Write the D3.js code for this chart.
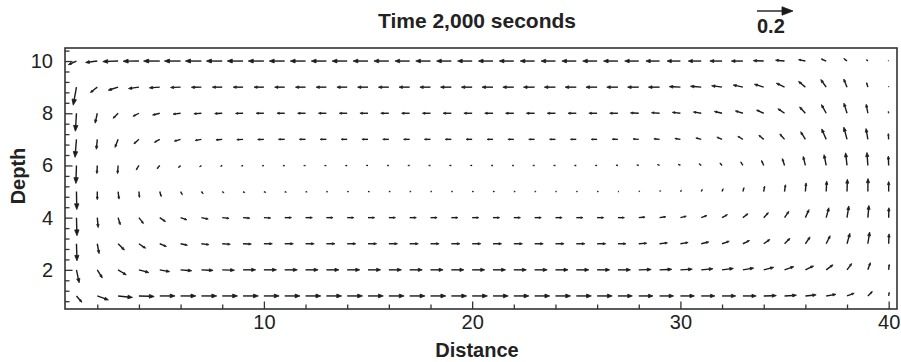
<!DOCTYPE html>
<html>
<head>
<meta charset="utf-8">
<script src="https://cdn.jsdelivr.net/npm/d3@7"></script>
<style>
  body { margin: 0; background: #fff; }
  text { font-family: "Liberation Sans", Arial, Helvetica, sans-serif; fill: #222; }
</style>
</head>
<body>
<svg class="plot" width="901" height="362"></svg>
<script>
// grid positions (distance along x, depth along y)
var distance = [1,2,3,4,5,6,7,8,9,10,11,12,13,14,15,16,17,18,19,20,
                21,22,23,24,25,26,27,28,29,30,31,32,33,34,35,36,37,38,39,40];
var depth = [10,9,8,7,6,5,4,3,2,1];

// velocity components in thousandths, one row per depth (10 at top .. 1 at bottom)
var uRows = [
  [-45,-65,-85,-88,-90,-90,-89,-88,-88,-87,-86,-85,-84,-84,-83,-83,-82,-82,-82,-81,-81,-81,-80,-80,-80,-80,-80,-78,-76,-74,-72,-68,-64,-58,-50,-38,-28,-18,-8,-3],
  [-18,-38,-55,-58,-58,-56,-56,-55,-55,-55,-56,-56,-57,-57,-58,-58,-59,-59,-60,-60,-61,-61,-62,-62,-62,-62,-62,-62,-62,-62,-60,-58,-54,-52,-46,-38,-30,-18,-7,-1],
  [-6,-12,-28,-33,-40,-42,-42,-42,-42,-43,-43,-44,-44,-44,-45,-45,-45,-45,-46,-46,-46,-46,-46,-46,-46,-46,-46,-46,-45,-45,-44,-43,-42,-40,-37,-32,-26,-17,-9,-2],
  [-8,-5,-17,-28,-30,-35,-35,-35,-35,-35,-35,-35,-35,-34,-34,-34,-34,-34,-34,-34,-33,-33,-33,-33,-33,-33,-32,-32,-32,-31,-30,-29,-28,-27,-26,-26,-25,-18,-10,-2],
  [-3,-2,-3,-15,-15,-12,-10,-9,-9,-9,-10,-10,-10,-10,-10,-10,-10,-10,-10,-10,-10,-10,-10,-10,-10,-10,-11,-11,-12,-12,-12,-12,-12,-12,-12,-12,-12,-8,-5,-2],
  [2,0,5,3,8,10,10,10,10,10,9,9,8,8,8,8,8,8,8,8,8,8,8,7,7,7,6,6,6,6,6,6,6,5,5,4,3,2,1,0],
  [3,5,12,25,32,35,38,38,38,38,38,38,37,37,37,37,37,37,37,37,37,37,37,37,37,37,36,35,35,33,32,30,28,26,24,20,15,10,6,1],
  [3,10,35,37,37,38,42,45,46,47,48,48,48,48,48,48,48,48,48,48,48,48,48,48,48,48,45,45,44,43,42,40,37,34,30,26,22,16,10,2],
  [15,28,45,55,55,62,65,68,70,70,70,70,70,70,70,70,70,70,70,70,70,70,70,70,70,70,70,69,68,66,65,63,60,56,52,46,38,26,14,3],
  [30,62,80,85,85,85,85,85,85,85,85,85,85,85,85,85,85,85,85,85,85,84,84,84,84,84,80,79,78,78,76,76,74,70,66,60,54,40,25,3]
];
var vRows = [
  [-20,-8,-3,-1,0,0,0,0,0,0,0,0,0,0,0,0,0,0,0,0,0,0,0,0,0,0,0,0,0,0,0,0,0,2,5,8,12,14,8,3],
  [-100,-30,-17,-8,-4,-2,-1,0,0,0,0,0,0,0,0,0,0,0,0,0,0,0,0,0,0,0,0,0,0,3,5,8,12,16,22,32,42,45,25,5],
  [-100,-55,-28,-17,-10,-5,-3,-2,-1,0,0,0,0,0,0,0,0,0,0,0,0,0,0,0,0,0,0,2,3,5,7,10,13,18,25,35,48,56,50,10],
  [-100,-55,-45,-25,-17,-10,-6,-3,-2,-1,0,0,0,0,0,0,0,0,0,0,0,0,0,0,0,0,1,2,3,5,8,12,17,23,30,42,58,68,60,32],
  [-100,-45,-45,-25,-18,-12,-8,-5,-4,-3,-2,-1,-1,-1,0,0,0,0,0,0,0,0,0,0,0,0,2,3,5,7,10,14,20,28,38,50,60,70,72,52],
  [-100,-45,-42,-33,-28,-18,-12,-8,-6,-5,-4,-3,-2,-1,-1,0,0,0,0,0,0,0,0,0,0,0,0,3,5,8,12,16,22,30,38,48,58,68,72,56],
  [-100,-55,-40,-33,-22,-12,-8,-4,-3,-2,0,0,0,0,0,0,0,0,0,0,0,0,0,0,0,0,0,3,5,8,12,17,22,28,35,45,55,65,68,55],
  [-95,-55,-35,-25,-15,-8,-5,-3,-2,0,0,0,0,0,0,0,0,0,0,0,0,0,0,0,0,0,0,3,5,7,10,14,18,24,30,38,45,58,65,55],
  [-72,-45,-28,-15,-10,-5,-3,-2,0,0,0,0,0,0,0,0,0,0,0,0,0,0,0,0,0,0,0,2,3,4,6,8,10,14,18,22,28,35,40,30],
  [-35,-22,-8,-3,0,0,0,0,0,0,0,0,0,0,0,0,0,0,0,0,0,0,0,0,0,0,0,0,0,0,0,0,0,2,4,6,9,15,25,20]
];

// ticks
var xMajor = [10, 20, 30, 40];
var xMinor = [2,4,6,8,12,14,16,18,22,24,26,28,32,34,36,38];
var yMajor = [2, 4, 6, 8, 10];
var yMinor = [0.8,1.2,1.6,2.4,2.8,3.2,3.6,4.4,4.8,5.2,5.6,6.4,6.8,7.2,7.6,8.4,8.8,9.2,9.6,10.4];
var refSpeed = 200; // reference arrow, 0.2

var svg = d3.select(".plot"),
    margin = {top: 48, right: 4, bottom: 53, left: 65},
    width = +svg.attr("width") - margin.left - margin.right,
    height = +svg.attr("height") - margin.top - margin.bottom;

var x = d3.scaleLinear().domain([0.45, 40.4]).range([0, width]),
    y = d3.scaleLinear().domain([0.5, 10.5]).range([height, 0]),
    speed = d3.scaleLinear().domain([0, 200]).range([0, 36]); // 0.2 -> 36px

var g = svg.append("g")
    .attr("transform", "translate(" + margin.left + "," + margin.top + ")");

var ink = "#1a1a1a";

// arrow path: shaft + filled head, head scales with length
function arrowParts(x0, y0, dx, dy) {
  var len = Math.sqrt(dx * dx + dy * dy);
  if (len < 0.01) return null;
  var ux = dx / len, uy = dy / len;
  var hl = Math.min(len * 0.32, 11), hw = hl * 0.38;
  var tx = x0 + dx, ty = y0 + dy;
  var bx = tx - ux * hl, by = ty - uy * hl;
  return {
    shaft: "M" + x0 + "," + y0 + "L" + bx + "," + by,
    head: "M" + tx + "," + ty +
          "L" + (bx - uy * hw) + "," + (by + ux * hw) +
          "L" + (bx + uy * hw) + "," + (by - ux * hw) + "Z"
  };
}

// flatten the grid
var cells = [];
depth.forEach(function(dep, i) {
  distance.forEach(function(dist, k) {
    cells.push({dist: dist, dep: dep, u: uRows[i][k], v: vRows[i][k]});
  });
});

// axes (inward ticks)
function styleAxis(sel) {
  sel.select(".domain").remove();
  sel.selectAll("line").attr("stroke", "#333").attr("stroke-width", 1.3);
  sel.selectAll("text").style("font-size", "20px").attr("fill", ink);
}

g.append("g")
    .attr("transform", "translate(0," + height + ")")
    .call(d3.axisBottom(x).tickValues(xMajor).tickSize(-7.5).tickPadding(6))
    .call(styleAxis);
g.append("g")
    .attr("transform", "translate(0," + height + ")")
    .call(d3.axisBottom(x).tickValues(xMinor).tickSize(-4.5).tickFormat(""))
    .call(styleAxis);
g.append("g")
    .call(d3.axisLeft(y).tickValues(yMajor).tickSize(-7.5).tickPadding(12))
    .call(styleAxis);
g.append("g")
    .call(d3.axisLeft(y).tickValues(yMinor).tickSize(-4.5).tickFormat(""))
    .call(styleAxis);

// frame
g.append("rect")
    .attr("width", width)
    .attr("height", height)
    .attr("fill", "none")
    .attr("stroke", "#333")
    .attr("stroke-width", 1.6);

// vectors
g.selectAll(".vec")
    .data(cells)
    .enter()
    .append("g")
    .attr("class", "vec")
    .each(function(d) {
      var p = arrowParts(x(d.dist), y(d.dep), speed(d.u), -speed(d.v));
      if (!p) return;
      var a = d3.select(this);
      a.append("path").attr("d", p.shaft).attr("stroke", ink).attr("stroke-width", 1.4).attr("fill", "none");
      a.append("path").attr("d", p.head).attr("fill", ink).attr("stroke", ink).attr("stroke-width", 0.8).attr("stroke-linejoin", "round");
    });

// title
svg.append("text")
    .attr("x", 477)
    .attr("y", 28)
    .attr("text-anchor", "middle")
    .style("font-size", "21px")
    .style("font-weight", "bold")
    .text("Time 2,000 seconds");

// reference arrow
var ref = arrowParts(757, 11, speed(refSpeed), 0);
svg.append("path").attr("d", ref.shaft).attr("stroke", ink).attr("stroke-width", 1.4);
svg.append("path").attr("d", ref.head).attr("fill", ink).attr("stroke", ink).attr("stroke-width", 0.8);
svg.append("text")
    .attr("x", 757)
    .attr("y", 33)
    .style("font-size", "20px")
    .style("font-weight", "bold")
    .text("0.2");

// axis titles
svg.append("text")
    .attr("x", 477)
    .attr("y", 357)
    .attr("text-anchor", "middle")
    .style("font-size", "20px")
    .style("font-weight", "bold")
    .text("Distance");
svg.append("text")
    .attr("transform", "translate(25,176) rotate(-90)")
    .attr("text-anchor", "middle")
    .style("font-size", "20px")
    .style("font-weight", "bold")
    .text("Depth");
</script>
</body>
</html>
